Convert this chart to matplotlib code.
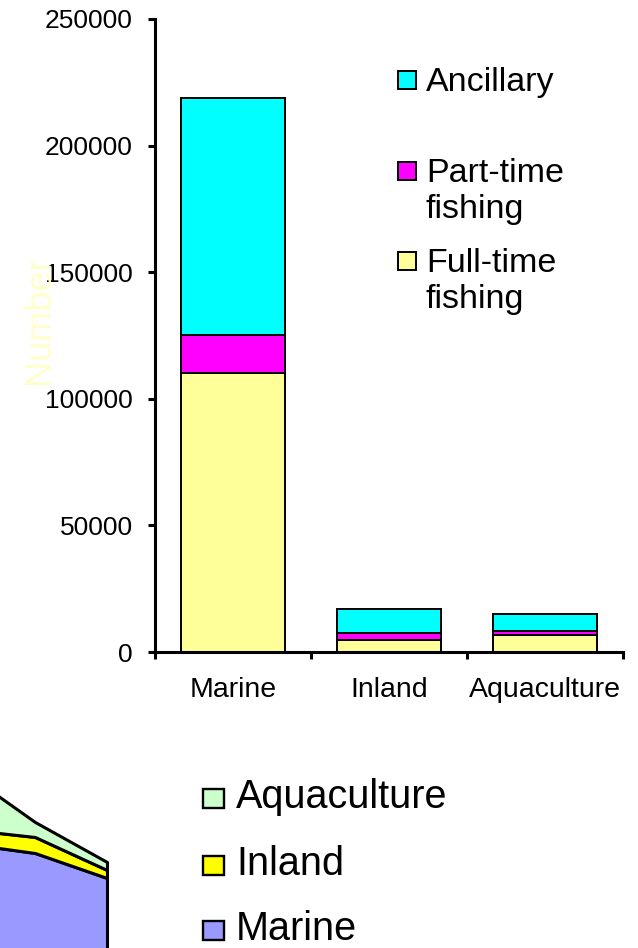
import matplotlib
matplotlib.use("Agg")
from matplotlib import pyplot as plt
from matplotlib.patches import Rectangle

plt.rcParams["font.family"] = ["Liberation Sans", "DejaVu Sans"]

# stacked bar data (number of people)
categories = ["Marine", "Inland", "Aquaculture"]
full_time = [110000, 4700, 6700]
part_time = [15300, 2800, 1400]
ancillary = [93600, 9500, 6900]
bar_labels = ["Ancillary", "Part-time\nfishing", "Full-time\nfishing"]

# area chart data (stacked)
periods = [0, 1, 2]
marine = [117, 107, 82]
inland = [14, 16, 8]
aquaculture = [58, 15, 8]
area_labels = ["Aquaculture", "Inland", "Marine"]

W, H = 638, 948
fig = plt.figure(figsize=(W / 100, H / 100), dpi=100)


def box(l, t, r, b):
    return [l / W, 1 - b / H, (r - l) / W, (b - t) / H]


def fbox(x, y, w, h):
    # x,y = pixel top-left
    return (x / W, 1 - (y + h) / H), w / W, h / H


# ---- stacked bars ----
ax = fig.add_axes(box(155, 19, 623, 652))
x = [0.5, 1.5, 2.5]
bw = 0.667
lw = 1.4
ax.bar(x, full_time, bw, color="#FFFF99", edgecolor="black", linewidth=lw)
bottom2 = full_time
ax.bar(x, part_time, bw, bottom=bottom2, color="#FF00FF", edgecolor="black", linewidth=lw)
bottom3 = [a + b for a, b in zip(full_time, part_time)]
ax.bar(x, ancillary, bw, bottom=bottom3, color="#00FFFF", edgecolor="black", linewidth=lw)

ax.set_xlim(0, 3)
ax.set_ylim(0, 250000)
ax.set_yticks(range(0, 250001, 50000))
ax.set_xticks([0, 1, 2, 3])
ax.set_xticklabels([])
ax.set_xticks(x, minor=True)
ax.set_xticklabels(categories, minor=True)
for s in ["top", "right"]:
    ax.spines[s].set_visible(False)
for s in ["left", "bottom"]:
    ax.spines[s].set_linewidth(2.2)
ax.tick_params(axis="y", which="major", length=5, width=2.2, pad=11, labelsize=19)
ax.tick_params(axis="x", which="major", length=5, width=2.2)
ax.tick_params(axis="x", which="minor", length=0, pad=18, labelsize=20.5)

fig.text(40 / W, 1 - 320 / H, "Number", rotation=90, color="#FFFFCC",
         fontsize=26, ha="center", va="center")

# legend for the bars
bar_colors = ["#00FFFF", "#FF00FF", "#FFFF99"]
cap_tops = [67, 158, 248]
for lab, col, yt in zip(bar_labels, bar_colors, cap_tops):
    xy, w, h = fbox(398, yt + 4, 18, 18)
    fig.patches.append(Rectangle(xy, w, h, facecolor=col, edgecolor="black",
                                 linewidth=1.4, transform=fig.transFigure))
    fig.text(426 / W, 1 - yt / H, lab, fontsize=24.5, ha="left", va="top",
             linespacing=1.2)

# ---- stacked area ----
ax2 = fig.add_axes(box(-37, 710, 125, 960))
ax2.stackplot(periods, marine, inland, aquaculture,
              colors=["#9999FF", "#FFFF00", "#CCFFCC"],
              edgecolor="black", linewidth=2.2)
ax2.set_xlim(0, 2.25)
ax2.set_ylim(0, 250)
ax2.axis("off")

area_colors = ["#CCFFCC", "#FFFF00", "#9999FF"]
baselines = [808, 875, 940]
for lab, col, yb in zip(area_labels, area_colors, baselines):
    xy, w, h = fbox(203, yb - 19, 21, 19)
    fig.patches.append(Rectangle(xy, w, h, facecolor=col, edgecolor="black",
                                 linewidth=1.7, transform=fig.transFigure))
    fig.text(236 / W, 1 - yb / H, lab, fontsize=28.5, ha="left", va="baseline")

fig.savefig("out.png", dpi=100)
